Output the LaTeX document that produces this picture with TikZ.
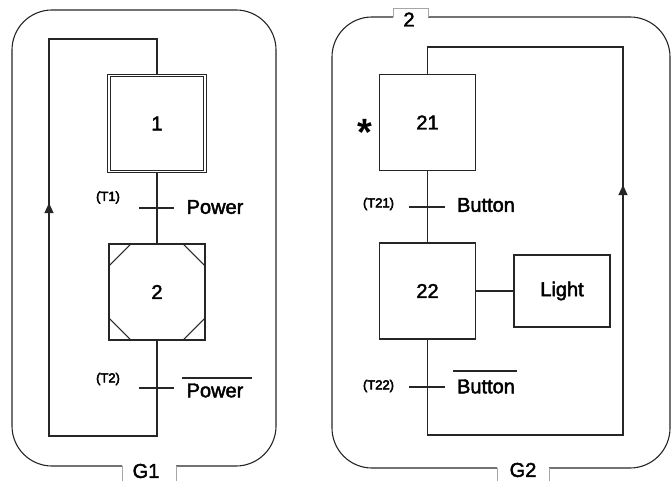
\documentclass[tikz,border=0pt]{standalone}
\usepackage{fontspec}
\setmainfont{Liberation Sans}
\newfontfamily\starfont{Liberation Sans Bold}
\newcommand\heavytext[1]{\special{pdf:literal direct 2 Tr 0.45 w}#1\special{pdf:literal direct 0 Tr}}
\usetikzlibrary{calc,arrows.meta}
\begin{document}
\begin{tikzpicture}[x=1pt,y=-1pt,
  line/.style={draw=black!85, line width=1.1pt},
  stepbox/.style={line, minimum width=96pt, minimum height=96pt, inner sep=0pt, font=\fontsize{20}{24}\selectfont},
  lbl/.style={font=\fontsize{20}{24}\selectfont, inner sep=0pt},
  tlbl/.style={font=\fontsize{13}{15}\selectfont, inner sep=0pt},
  tab/.style={draw=black!35, line width=0.9pt},
  frame/.style={line, rounded corners=40pt},
  upar/.style={line, -{Triangle[length=10pt,width=9pt]}}]
\useasboundingbox (0,0) rectangle (671,481);
% ---------- left graph G1 ----------
\draw[frame] (122,466) -- (12,466) -- (12,10) -- (276,10) -- (276,466) -- (176,466);
\draw[tab] (122,466) -- (122,481);
\draw[tab] (176,466) -- (176,481);
\node[lbl] (g1) at (146,471) {\heavytext{G1}};
\node[stepbox, double, double distance=1.6pt] (s1) at (157,123.5) {\heavytext{1}};
\node[stepbox] (s2) at (157,292) {\heavytext{2}};
\foreach \a/\dx/\dy in {north west/1/1, north east/-1/1, south west/1/-1, south east/-1/-1}
  \draw[line] ($(s2.\a)+(0,23*\dy)$) -- ($(s2.\a)+(23*\dx,0)$);
\draw[line] (s1.south) -- (s2.north);
\coordinate (t1) at (157,208);
\coordinate (t2) at (157,388);
\draw[line] ($(t1)+(-18,0)$) -- ($(t1)+(17,0)$);
\draw[line] ($(t2)+(-18,0)$) -- ($(t2)+(17,0)$);
\coordinate (l1) at (157,436);
\coordinate (l2) at (49,436);
\coordinate (l3) at (49,39);
\coordinate (l4) at (157,39);
\coordinate (la) at (49,224);
\coordinate (lb) at (49,203);
\draw[line] (s2.south) -- (l1) -- (l2) -- (l3) -- (l4) -- (s1.north);
\draw[upar] (la) -- (lb);
\node[tlbl] (T1) at (108,197.5) {\heavytext{(T1)}};
\node[lbl] (p1) at (215,207) {\heavytext{Power}};
\node[tlbl] (T2) at (108,379) {\heavytext{(T2)}};
\node[lbl] (p2) at (215,390.5) {\heavytext{Power}};
\draw[line] ($(p2.center)+(-33,-12.5)$) -- ($(p2.center)+(37,-12.5)$);
% ---------- right graph G2 ----------
\draw[frame] (393,17) -- (332,17) -- (332,468) -- (497,468);
\draw[frame] (549,468) -- (670,468) -- (670,17) -- (428,17);
\draw[tab] (393,17) -- (393,8) -- (428,8) -- (428,17);
\draw[tab] (497,468) -- (497,481);
\draw[tab] (549,468) -- (549,481);
\node[lbl] (n2) at (409,19.5) {\heavytext{2}};
\node[lbl] (g2) at (523,470) {\heavytext{G2}};
\node[stepbox] (s21) at (427.5,122.5) {\heavytext{21}};
\node[stepbox] (s22) at (427.5,291) {\heavytext{22}};
\node[line, lbl, minimum width=96pt, minimum height=72pt] (light) at (562,291) {\heavytext{Light}};
\draw[line] (s22.east) -- (light.west);
\draw[line] (s21.south) -- (s22.north);
\coordinate (t21) at (427.5,207);
\coordinate (t22) at (427.5,387);
\draw[line] ($(t21)+(-18.5,0)$) -- ($(t21)+(17.5,0)$);
\draw[line] ($(t22)+(-18.5,0)$) -- ($(t22)+(17.5,0)$);
\coordinate (r1) at (427.5,435);
\coordinate (r2) at (623,435);
\coordinate (r3) at (623,47);
\coordinate (r4) at (427.5,47);
\coordinate (ra) at (623,206);
\coordinate (rb) at (623,185);
\draw[line] (s22.south) -- (r1) -- (r2) -- (r3) -- (r4) -- (s21.north);
\draw[upar] (ra) -- (rb);
\node[font=\fontsize{38}{38}\starfont, inner sep=0pt, anchor=base] (star) at (365,145.5) {*};
\node[tlbl] (T21) at (378.5,204) {\heavytext{(T21)}};
\node[lbl] (b1) at (486,205) {\heavytext{Button}};
\node[tlbl] (T22) at (378.5,386) {\heavytext{(T22)}};
\node[lbl] (b2) at (486,386.5) {\heavytext{Button}};
\draw[line] ($(b2.center)+(-33,-15.5)$) -- ($(b2.center)+(31,-15.5)$);
\end{tikzpicture}
\end{document}
